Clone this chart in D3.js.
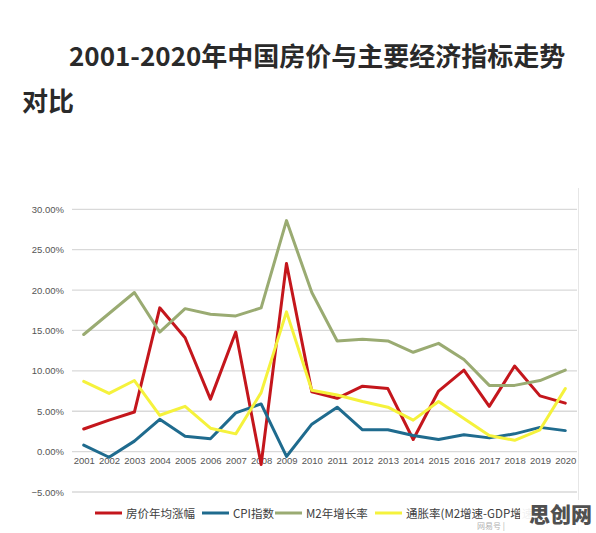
<!DOCTYPE html>
<html><head><meta charset="utf-8">
<script src="https://cdn.jsdelivr.net/npm/d3@7"></script>
<style>
html,body{margin:0;padding:0;background:#fff;}
svg{display:block;}
</style></head>
<body>
<script>
const years = ["2001","2002","2003","2004","2005","2006","2007","2008","2009","2010","2011","2012","2013","2014","2015","2016","2017","2018","2019","2020"];
const housePrice = [2.8,3.9,4.9,17.8,14.1,6.5,14.8,-1.6,23.3,7.4,6.6,8.1,7.8,1.5,7.5,10.1,5.6,10.6,6.9,6.0];
const cpi = [0.8,-0.7,1.3,4.0,1.9,1.6,4.8,5.9,-0.6,3.4,5.5,2.7,2.7,2.0,1.5,2.1,1.7,2.2,3.0,2.6];
const m2 = [14.5,17.1,19.7,14.8,17.7,17.0,16.8,17.8,28.6,19.7,13.7,13.9,13.7,12.3,13.4,11.4,8.2,8.2,8.8,10.1];
const inflation = [8.7,7.2,8.8,4.5,5.6,2.9,2.2,7.3,17.3,7.6,7.0,6.2,5.5,3.9,6.2,4.1,2.0,1.4,2.7,7.8];
const yTicks = [-5,0,5,10,15,20,25,30];
const seriesNames = ["房价年均涨幅","CPI指数","M2年增长率","通胀率(M2增速-GDP增速)"];
const seriesColors = ["#c4161c","#1f6b8e","#9aab72","#f5f23c"];
const seriesData = [housePrice, cpi, m2, inflation];

const W = 596, H = 533;
const svg = d3.select("body").append("svg").attr("width", W).attr("height", H);

// Title
svg.append("text").attr("x", 69).attr("y", 66)
  .attr("font-family", "'Noto Sans CJK SC','Noto Sans',sans-serif")
  .attr("font-size", 26).attr("font-weight", 600).attr("fill", "#2a2a2a")
  .text("2001-2020年中国房价与主要经济指标走势");
svg.append("text").attr("x", 22).attr("y", 111)
  .attr("font-family", "'Noto Sans CJK SC','Noto Sans',sans-serif")
  .attr("font-size", 26).attr("font-weight", 600).attr("fill", "#2a2a2a")
  .text("对比");

// chart border (right)
svg.append("line").attr("x1", 578.5).attr("x2", 578.5).attr("y1", 188).attr("y2", 533)
  .attr("stroke", "#e6e6e6").attr("stroke-width", 1);

const x = d3.scalePoint().domain(years).range([83.7, 565.3]);
const y = d3.scaleLinear().domain([-5, 30]).range([492, 209.3]);

// gridlines
const grid = svg.append("g");
grid.selectAll("line").data(yTicks).join("line")
  .attr("x1", 72).attr("x2", 577)
  .attr("y1", d => y(d)).attr("y2", d => y(d))
  .attr("stroke", "#d9d9d9").attr("stroke-width", 1.3);

// y axis labels
const yAxis = d3.axisLeft(y).tickValues(yTicks).tickSize(0).tickPadding(0)
  .tickFormat(d => d3.format(".2f")(d) + "%");
const ya = svg.append("g").attr("transform", "translate(64,0)").call(yAxis);
ya.select(".domain").remove();
ya.selectAll("text").attr("font-family", "'Liberation Sans',Arial,sans-serif")
  .attr("font-size", 9.5).attr("fill", "#555");

// x axis labels
const xAxis = d3.axisBottom(x).tickSize(0).tickPadding(0);
const xa = svg.append("g").attr("transform", "translate(0,457)").call(xAxis);
xa.select(".domain").remove();
xa.selectAll("text").attr("font-family", "'Liberation Sans',Arial,sans-serif")
  .attr("font-size", 9.5).attr("fill", "#555");

// lines
const line = d3.line().x((d, i) => x(years[i])).y(d => y(d));
seriesData.forEach((s, k) => {
  svg.append("path").datum(s).attr("d", line)
    .attr("fill", "none").attr("stroke", seriesColors[k])
    .attr("stroke-width", 3).attr("stroke-linejoin", "round").attr("stroke-linecap", "round");
});

// legend
const legendX = [95, 202, 275, 375];
const lg = svg.append("g");
seriesNames.forEach((n, k) => {
  lg.append("line").attr("x1", legendX[k]).attr("x2", legendX[k] + 27)
    .attr("y1", 513).attr("y2", 513)
    .attr("stroke", seriesColors[k]).attr("stroke-width", 3);
  lg.append("text").attr("x", legendX[k] + 31).attr("y", 517.5)
    .attr("font-family", "'Noto Sans CJK SC','Liberation Sans',sans-serif")
    .attr("font-size", 11.5).attr("fill", "#404040").text(n);
});

// watermark
svg.append("rect").attr("x", 520).attr("y", 500).attr("width", 76).attr("height", 33).attr("fill", "#fff").attr("opacity", 0.92);
svg.append("text").attr("x", 592).attr("y", 522).attr("text-anchor", "end")
  .attr("font-family", "'Noto Sans CJK SC',sans-serif").attr("font-weight", 900)
  .attr("font-size", 21).attr("fill", "#505050").text("思创网");
svg.append("text").attr("x", 477).attr("y", 529)
  .attr("font-family", "'Noto Sans CJK SC',sans-serif")
  .attr("font-size", 8).attr("fill", "#b0b0b0").text("网易号 |");
</script>
</body></html>
